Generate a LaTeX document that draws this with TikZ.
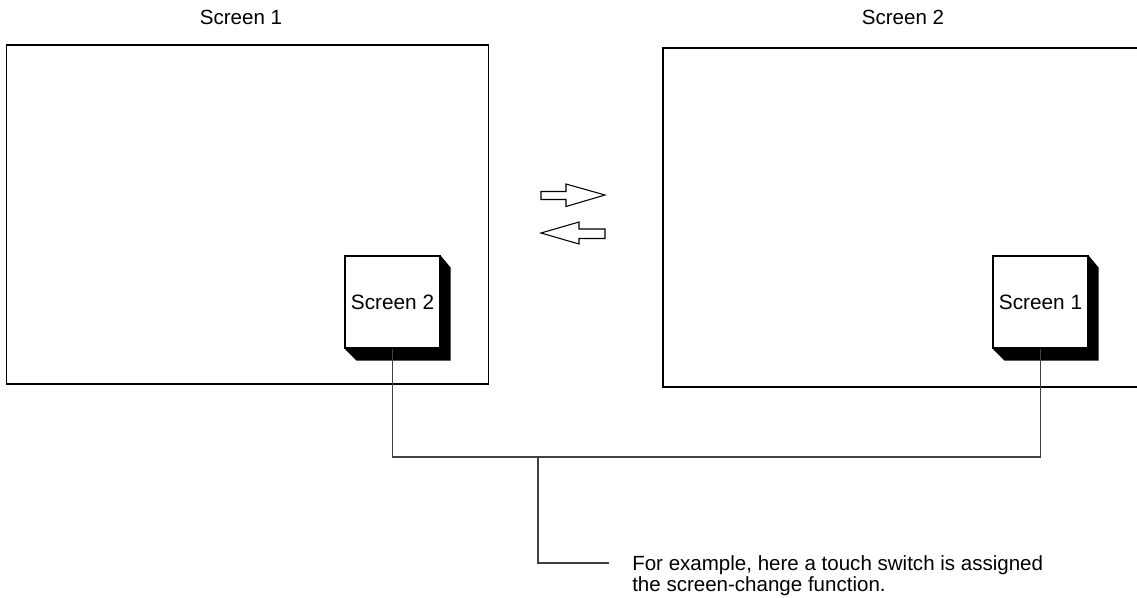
\documentclass[tikz,border=0pt]{standalone}
\usepackage{fontspec}
\setmainfont{Liberation Sans}

\tikzset{
  screenbox/.style={draw, line width=0.8pt, minimum width=361.5pt, minimum height=254.25pt, inner sep=0pt},
  keybox/.style={draw, fill=white, line width=0.8pt, minimum width=71.25pt, minimum height=69pt, inner sep=0pt, font=\fontsize{15.6}{15.6}\selectfont},
  keyshadow/.style={fill=black},
  title/.style={font=\fontsize{15.4}{15.4}\selectfont, inner sep=0pt},
  link/.style={draw=black!75, line width=0.8pt},
  swap/.style={draw, line width=0.8pt, fill=white, line join=miter},
}

\begin{document}
\begin{tikzpicture}[x=0.75pt, y=-0.75pt]
\useasboundingbox (0,0) rectangle (1137,597);
\clip (0,0) rectangle (1137,597);
\node[title] (title1) at (241,17) {Screen 1};
\node[title] (title2) at (903,17) {Screen 2};
\node[screenbox] (scr1) at (247.5,214.5) {};
\node[screenbox, minimum width=357.75pt] (scr2) at (901.5,217.5) {};
\node[keybox] (key1) at (392.5,302) {Screen 2};
\node[keybox] (key2) at (1040.5,302) {Screen 1};
\fill[keyshadow] (key1.north east) -- ++(10,12) -- ([shift={(10,12)}]key1.south east) -- ([shift={(12,12)}]key1.south west) -- (key1.south west) -- (key1.south east) -- cycle;
\fill[keyshadow] (key2.north east) -- ++(10,12) -- ([shift={(10,12)}]key2.south east) -- ([shift={(12,12)}]key2.south west) -- (key2.south west) -- (key2.south east) -- cycle;
\draw[swap] (541,191.5) -- (566,191.5) -- (566,184) -- (605,195) -- (566,206.5) -- (566,199.5) -- (541,199.5) -- cycle;
\draw[swap] (605,229) -- (579,229) -- (579,222) -- (541,233) -- (579,244) -- (579,238.5) -- (605,238.5) -- cycle;
\coordinate (bus) at (538,457);
\coordinate (noteend) at (609,563);
\node[title, anchor=north west, align=left, font=\fontsize{15.4}{16.2}\selectfont] (note) at (632,555) {For example, here a touch switch is assigned\\the screen-change function.};
\draw[link] (key1.south) |- (bus) -| (key2.south);
\draw[link] (bus) |- (noteend);
\end{tikzpicture}
\end{document}
